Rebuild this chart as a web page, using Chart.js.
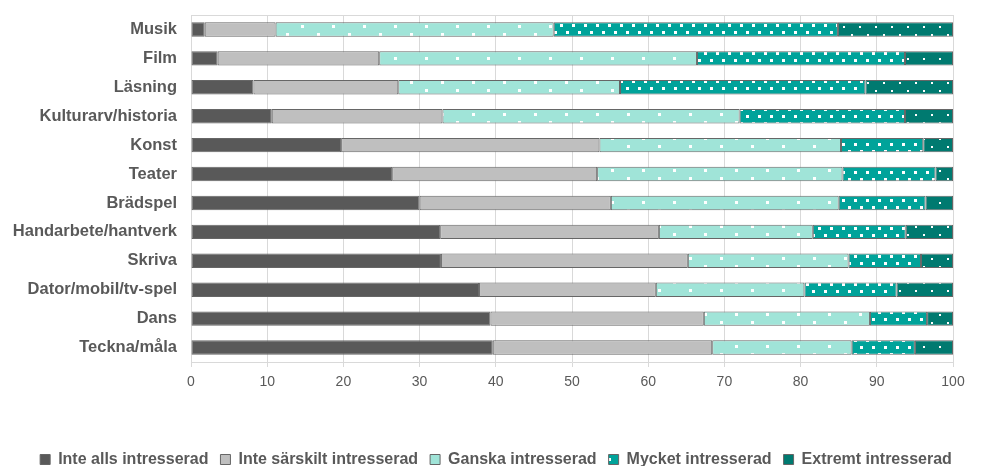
<!DOCTYPE html>
<html>
<head>
<meta charset="utf-8">
<script src="https://cdn.jsdelivr.net/npm/chart.js@4.4.1/dist/chart.umd.min.js"></script>
<style>
  html, body { margin: 0; padding: 0; background: #ffffff; }
  #wrap { width: 981px; height: 466px; position: relative; }
</style>
</head>
<body>
<div id="wrap"><canvas id="c" width="981" height="466"></canvas></div>
<script>
const categories = ['Musik', 'Film', 'Läsning', 'Kulturarv/historia', 'Konst', 'Teater', 'Brädspel', 'Handarbete/hantverk', 'Skriva', 'Dator/mobil/tv-spel', 'Dans', 'Teckna/måla'];
const seriesNames = ['Inte alls intresserad', 'Inte särskilt intresserad', 'Ganska intresserad', 'Mycket intresserad', 'Extremt intresserad'];
const inteAlls     = [1.8, 3.5, 8.2, 10.6, 19.7, 26.4, 30.0, 32.7, 32.8, 37.8, 39.3, 39.6];
const inteSarskilt = [9.3, 21.2, 19.0, 22.4, 33.9, 26.9, 25.1, 28.7, 32.4, 23.2, 28.0, 28.8];
const ganska       = [36.5, 41.7, 29.1, 39.0, 31.7, 32.2, 29.9, 20.2, 21.1, 19.5, 21.8, 18.3];
const mycket       = [37.3, 27.3, 32.2, 21.7, 10.8, 12.2, 11.4, 12.2, 9.5, 12.1, 7.5, 8.3];
const extremt      = [15.1, 6.3, 11.5, 6.3, 3.9, 2.3, 3.6, 6.2, 4.2, 7.4, 3.4, 5.0];
const xTicks = [0, 10, 20, 30, 40, 50, 60, 70, 80, 90, 100];

function makePattern(bg, w, h, dots, size) {
  const c = document.createElement('canvas');
  c.width = w; c.height = h;
  const g = c.getContext('2d');
  g.fillStyle = bg; g.fillRect(0, 0, w, h);
  g.fillStyle = '#ffffff';
  dots.forEach(d => g.fillRect(d[0], d[1], size, size));
  return g.createPattern(c, 'repeat');
}
const ctx = document.getElementById('c').getContext('2d');
const patLight = makePattern('#a0e4d8', 31, 16, [[7, 1], [22, 9]], 3);
const patMid = makePattern('#00a39a', 12, 14, [[2, 3], [8, 10]], 3);
const patDark = makePattern('#007a70', 16, 16, [[3, 2], [11, 10]], 2);

const fills = ['#595959', '#bfbfbf', patLight, patMid, patDark];
const values = [inteAlls, inteSarskilt, ganska, mycket, extremt];
const FONT = "'Liberation Sans', Arial, Helvetica, sans-serif";

const legendShift = {
  id: 'legendShift',
  afterLayout(chart) {
    const L = chart.legend;
    if (!L) return;
    const dx = 496 - (L.left + L.right) / 2;
    L.left += dx; L.right += dx;
    const dy = 439.5 - L.top;
    L.top += dy; L.bottom += dy;
  }
};

new Chart(ctx, {
  type: 'bar',
  data: {
    labels: categories,
    datasets: seriesNames.map((name, i) => ({
      label: name,
      data: values[i],
      backgroundColor: fills[i],
      borderColor: '#666666',
      borderWidth: 1,
      borderSkipped: false,
      categoryPercentage: 1.0,
      barPercentage: 0.5
    }))
  },
  plugins: [legendShift],
  options: {
    indexAxis: 'y',
    responsive: false,
    animation: false,
    devicePixelRatio: 1,
    layout: { padding: { top: 15, right: 28, left: 0, bottom: 0 } },
    scales: {
      x: {
        stacked: true,
        min: 0, max: 100,
        position: 'bottom',
        afterBuildTicks: s => { s.ticks = xTicks.map(v => ({ value: v })); },
        afterFit: s => { s.height = 466 - 362 - (s.chart.legend ? s.chart.legend.height : 40); },
        grid: { color: '#d9d9d9', lineWidth: 1, drawTicks: true, tickLength: 5, tickColor: '#d9d9d9' },
        border: { display: true, color: '#d9d9d9', width: 1 },
        ticks: { color: '#595959', font: { family: FONT, size: 14 }, padding: 7, maxRotation: 0 }
      },
      x2: {
        min: 0, max: 100,
        position: 'top',
        afterFit: s => { s.height = 0; },
        grid: { display: false, drawTicks: false },
        border: { display: true, color: '#d9d9d9', width: 1 },
        ticks: { display: false }
      },
      y: {
        stacked: true,
        afterFit: s => { s.width = 191; s.paddingTop = 0; s.paddingBottom = 0; },
        grid: { display: false, drawTicks: false },
        border: { display: true, color: '#d9d9d9', width: 1 },
        ticks: { color: '#595959', font: { family: FONT, size: 16.5, weight: 'bold' }, padding: 14 }
      }
    },
    plugins: {
      tooltip: { enabled: false },
      legend: {
        display: true,
        position: 'bottom',
        labels: {
          boxWidth: 10, boxHeight: 10, padding: 12,
          color: '#595959',
          font: { family: FONT, size: 16, weight: 'bold' }
        }
      }
    }
  }
});
</script>
</body>
</html>
